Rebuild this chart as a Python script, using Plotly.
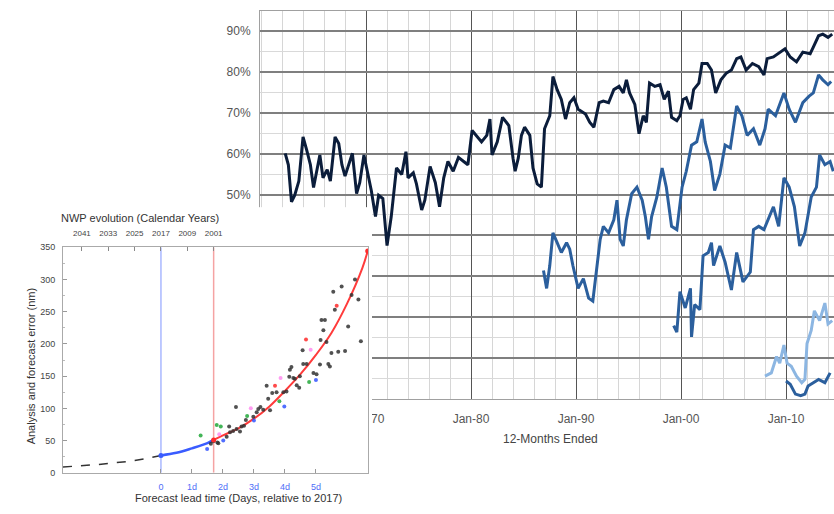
import plotly.graph_objects as go

# ---------------- Background chart: skill (%) vs 12-months ended ----------------
dark_year = [1962.3, 1962.6, 1962.9, 1963.2, 1963.6, 1964.0, 1964.35, 1964.7, 1965.0, 1965.3,
             1965.6, 1965.9, 1966.3, 1966.6, 1967.05, 1967.4, 1967.7, 1968.0, 1968.3, 1968.7,
             1969.1, 1969.4, 1969.8, 1970.1, 1970.5, 1970.9, 1971.2, 1971.6, 1972.0, 1972.4,
             1972.9, 1973.4, 1973.8, 1974.0, 1974.5, 1974.8, 1975.3, 1975.6, 1976.1, 1976.6,
             1977.0, 1977.4, 1977.8, 1978.3, 1978.8, 1979.3, 1979.7, 1980.1, 1980.5, 1981.0,
             1981.5, 1981.8, 1982.0, 1982.5, 1983.0, 1983.6, 1984.0, 1984.2, 1984.5, 1984.8,
             1985.1, 1985.6, 1985.9, 1986.3, 1986.7, 1987.0, 1987.5, 1987.8, 1988.2, 1988.6,
             1989.0, 1989.4, 1989.8, 1990.2, 1990.9, 1991.3, 1991.7, 1992.2, 1992.6, 1993.1,
             1993.6, 1994.1, 1994.5, 1994.8, 1995.1, 1995.6, 1996.0, 1996.4, 1996.7, 1997.0,
             1997.5, 1998.0, 1998.4, 1998.8, 1999.1, 1999.6, 1999.9, 2000.2, 2000.5, 2000.9,
             2001.2, 2001.7, 2002.0, 2002.5, 2002.9, 2003.3, 2003.8, 2004.3, 2004.8, 2005.3,
             2005.7, 2006.2, 2006.8, 2007.4, 2007.9, 2008.2, 2008.8, 2009.5, 2009.9, 2010.4,
             2011.0, 2011.6, 2012.3, 2012.6, 2013.1, 2013.5, 2014.0, 2014.4]
dark_val = [60.1, 57.3, 48.2, 49.8, 53.3, 64.1, 60.9, 57.3, 51.7, 55.3,
            59.7, 54.1, 56.1, 53.3, 64.1, 62.5, 57.3, 54.5, 56.9, 60.1,
            50.2, 52.9, 59.7, 55.7, 51.0, 44.6, 49.8, 49.0, 37.5, 44.6,
            56.5, 54.9, 60.5, 54.1, 55.3, 52.6, 46.2, 48.6, 56.9, 52.9,
            47.0, 54.1, 58.1, 55.7, 59.1, 58.1, 57.3, 65.7, 64.5, 62.9,
            64.5, 68.5, 59.7, 62.9, 68.9, 66.9, 58.9, 55.7, 58.9, 64.5,
            66.5, 64.5, 56.5, 52.6, 51.8, 66.1, 69.3, 78.9, 75.7, 73.3,
            68.5, 72.5, 73.7, 70.9, 69.7, 67.7, 66.5, 72.5, 72.9, 72.5,
            75.7, 76.5, 74.9, 78.1, 74.9, 72.1, 64.9, 69.3, 67.7, 77.3,
            76.5, 76.9, 73.3, 75.3, 68.9, 68.1, 69.3, 73.3, 73.7, 70.9,
            75.7, 77.3, 82.1, 82.1, 80.5, 74.9, 78.1, 79.7, 80.5, 83.3,
            83.7, 80.5, 82.1, 81.3, 79.3, 83.3, 83.7, 84.9, 85.7, 83.7,
            82.5, 84.9, 84.5, 86.1, 88.9, 89.3, 88.5, 89.3]

mid_year = [1986.9, 1987.2, 1987.5, 1987.8, 1988.2, 1988.6, 1989.1, 1989.4, 1989.7, 1990.2,
            1990.7, 1991.2, 1991.6, 1992.0, 1992.3, 1992.6, 1993.1, 1993.6, 1993.9, 1994.2,
            1994.5, 1994.8, 1995.3, 1995.8, 1996.3, 1996.6, 1996.9, 1997.2, 1997.7, 1998.2,
            1998.6, 1999.1, 1999.6, 2000.1, 2000.5, 2001.0, 2001.5, 2002.0, 2002.3, 2002.8,
            2003.2, 2003.7, 2004.2, 2004.7, 2005.3, 2005.8, 2006.3, 2006.9, 2007.5, 2008.0,
            2008.3, 2009.0, 2009.8, 2010.3, 2010.9, 2011.6, 2012.2, 2012.6, 2013.1, 2013.5,
            2014.0, 2014.3]
mid_val = [31.4, 27.0, 32.6, 40.6, 38.2, 35.8, 38.2, 36.6, 32.6, 27.0,
           29.4, 24.6, 23.9, 32.6, 39.0, 42.2, 40.6, 43.8, 48.6, 39.0,
           37.4, 43.8, 50.2, 51.8, 48.6, 44.6, 39.0, 44.6, 49.4, 56.5,
           51.8, 42.2, 41.4, 51.8, 55.7, 62.1, 62.9, 68.5, 62.9, 58.1,
           51.0, 55.0, 62.1, 61.4, 71.7, 69.3, 64.5, 66.1, 62.1, 66.1,
           70.9, 69.3, 74.9, 70.9, 67.7, 72.5, 74.1, 74.9, 79.3, 78.1,
           76.9, 77.7]

low_year = [1999.3, 1999.6, 1999.9, 2000.4, 2000.9, 2001.0, 2001.3, 2001.8, 2002.1, 2002.6,
            2002.9, 2003.1, 2003.7, 2004.2, 2004.8, 2005.3, 2005.9, 2006.6, 2006.9, 2007.4,
            2007.9, 2008.8, 2009.3, 2009.8, 2010.3, 2010.8, 2011.3, 2011.8, 2012.4, 2012.9,
            2013.2, 2013.7, 2014.2, 2014.5]
low_val = [17.9, 16.3, 26.2, 22.2, 27.0, 15.1, 23.0, 21.8, 35.0, 35.8,
           38.2, 32.6, 37.4, 33.4, 26.6, 35.8, 28.6, 31.0, 41.4, 42.2,
           41.4, 47.0, 42.2, 54.1, 51.8, 47.0, 37.4, 40.6, 49.4, 51.8,
           59.7, 57.3, 58.1, 55.7]

light_year = [2008.0, 2008.6, 2009.1, 2009.4, 2009.8, 2010.1, 2010.5, 2011.0, 2011.5, 2011.8,
              2012.0, 2012.4, 2012.7, 2013.2, 2013.7, 2014.0, 2014.4]
light_val = [5.5, 6.3, 10.3, 8.7, 13.1, 8.7, 7.9, 5.5, 3.9, 4.7,
             13.5, 16.7, 21.5, 19.1, 23.4, 18.3, 19.1]

base_year = [2010.0, 2010.4, 2010.9, 2011.4, 2011.8, 2012.1, 2012.6, 2013.1, 2013.7, 2014.2]
base_val = [4.3, 3.5, 1.1, 0.7, 1.1, 3.1, 3.9, 4.7, 3.9, 6.3]

decade_ticks = [1970, 1980, 1990, 2000, 2010]
decade_labels = ["Jan-70", "Jan-80", "Jan-90", "Jan-00", "Jan-10"]
pct_ticks = [0, 10, 20, 30, 40, 50, 60, 70, 80, 90]
pct_labels = ["0%", "10%", "20%", "30%", "40%", "50%", "60%", "70%", "80%", "90%"]

# ---------------- Inset: NWP evolution ----------------
dash_t = [-3.16, -2.5, -2.0, -1.5, -1.0, -0.5, 0.0]
dash_y = [9, 11, 13, 15.5, 18, 22, 27]
blue_t = [0.0, 0.5, 1.0, 1.5, 1.7]
blue_y = [27, 31, 38, 46, 51]
red_t = [1.7, 2.0, 2.5, 3.0, 3.5, 4.0, 4.5, 5.0, 5.5, 6.0, 6.5, 6.67]
red_y = [51, 58, 69, 84, 103, 127, 153, 183, 217, 262, 318, 344]

blk_t = [6.26, 5.83, 5.56, 6.15, 6.37, 5.61, 5.18, 5.29, 6.04, 5.24, 5.15, 5.34, 6.45, 4.57,
         5.5, 5.72, 5.94, 1.61, 1.82, 2.12, 2.2, 2.23, 2.33, 2.44, 2.55, 2.6, 2.68, 2.74,
         2.98, 3.09, 3.14, 3.21, 3.3, 2.42, 3.52, 3.46, 3.59, 3.73, 3.41, 3.95, 4.05, 4.14,
         4.27, 4.32, 4.38, 4.46, 4.21, 4.59, 4.7, 4.92, 5.02, 5.13, 5.4, 5.45, 4.16, 4.48,
         1.69, 1.85]
blk_y = [300, 289, 281, 276, 269, 253, 237, 237, 227, 221, 206, 203, 204, 190,
         186, 188, 189, 45, 47, 56, 72, 63, 65, 68, 64, 72, 73, 82,
         87, 94, 99, 102, 98, 102, 97, 115, 124, 125, 135, 125, 126, 149,
         147, 146, 136, 132, 164, 169, 169, 155, 153, 168, 169, 165, 160, 150,
         49, 46]
grn_t = [1.28, 1.8, 1.93, 2.78, 3.82, 4.78]
grn_y = [58, 74, 72, 88, 111, 141]
blu_t = [1.49, 2.01, 3.0, 3.98, 5.0]
blu_y = [37, 50, 81, 103, 144]
red_pt_t = [5.67, 4.68, 3.68]
red_pt_y = [259, 207, 135]
pnk_t = [4.83, 1.88, 2.9, 3.86]
pnk_y = [191, 60, 100, 147]

lead_ticks = [0, 1, 2, 3, 4, 5]
lead_labels = ["0", "1d", "2d", "3d", "4d", "5d"]
year_ticks = [-2.55, -1.7, -0.85, 0.0, 0.85, 1.7]
year_labels = ["2041", "2033", "2025", "2017", "2009", "2001"]
err_ticks = [0, 50, 100, 150, 200, 250, 300, 350]
now_line_t = [0.0, 0.0]
past_line_t = [1.7, 1.7]
vline_y = [0, 350]

W, H = 834, 514
def px(x):
    return x / W
def py(y):
    return (H - y) / H

FONT = "Arial, Liberation Sans, sans-serif"
fig = go.Figure()

# background series
for xs, ys, col, w in [(dark_year, dark_val, "#0b1d3b", 3),
                       (mid_year, mid_val, "#2b5f9d", 3),
                       (low_year, low_val, "#2b5f9d", 3),
                       (light_year, light_val, "#8cb6e2", 3),
                       (base_year, base_val, "#2b5f9d", 3)]:
    fig.add_trace(go.Scatter(x=xs, y=ys, mode="lines", line=dict(color=col, width=w),
                             xaxis="x", yaxis="y", showlegend=False, hoverinfo="skip"))

# white cover subplot (x2/y2)
fig.add_trace(go.Scatter(x=[0], y=[0], mode="markers", marker=dict(opacity=0),
                         xaxis="x2", yaxis="y2", showlegend=False, hoverinfo="skip"))

# inset traces
fig.add_trace(go.Scatter(x=now_line_t, y=vline_y, mode="lines", line=dict(color="#a9b8ff", width=1.5),
                         xaxis="x3", yaxis="y3", showlegend=False, hoverinfo="skip"))
fig.add_trace(go.Scatter(x=past_line_t, y=vline_y, mode="lines", line=dict(color="#f5a3a3", width=1.5),
                         xaxis="x3", yaxis="y3", showlegend=False, hoverinfo="skip"))
fig.add_trace(go.Scatter(x=dash_t, y=dash_y, mode="lines", line=dict(color="#333333", width=1.5, dash="dash"),
                         xaxis="x3", yaxis="y3", showlegend=False, hoverinfo="skip"))
fig.add_trace(go.Scatter(x=blue_t, y=blue_y, mode="lines", line=dict(color="#3a5cff", width=2.5, shape="spline"),
                         xaxis="x3", yaxis="y3", showlegend=False, hoverinfo="skip"))
fig.add_trace(go.Scatter(x=red_t, y=red_y, mode="lines", line=dict(color="#ff3b3b", width=2, shape="spline"),
                         xaxis="x3", yaxis="y3", showlegend=False, hoverinfo="skip"))
for xs, ys, col in [(blk_t, blk_y, "#333333"), (grn_t, grn_y, "#22a83a"), (blu_t, blu_y, "#3355ff"),
                    (red_pt_t, red_pt_y, "#ff2a2a"), (pnk_t, pnk_y, "#ff8cf0")]:
    fig.add_trace(go.Scatter(x=xs, y=ys, mode="markers", marker=dict(color=col, size=4, opacity=0.85),
                             xaxis="x3", yaxis="y3", showlegend=False, hoverinfo="skip"))
fig.add_trace(go.Scatter(x=[dash_t[-1], red_t[0], red_t[-1]], y=[dash_y[-1], red_y[0], red_y[-1]],
                         mode="markers", marker=dict(color=["#3a5cff", "#ff2a2a", "#ff2a2a"], size=5),
                         xaxis="x3", yaxis="y3", showlegend=False, hoverinfo="skip"))
fig.add_trace(go.Scatter(x=[0], y=[0], mode="markers", marker=dict(opacity=0),
                         xaxis="x4", yaxis="y3", showlegend=False, hoverinfo="skip"))

fig.update_layout(
    width=W, height=H, margin=dict(l=0, r=0, t=0, b=0),
    paper_bgcolor="white", plot_bgcolor="white",
    font=dict(family=FONT),
    xaxis=dict(domain=[px(260), 1.0], range=[1959.9, 2014.57], tickmode="array",
               tickvals=decade_ticks, ticktext=decade_labels,
               tickfont=dict(size=12, color="#555555"), ticks="", ticklabelstandoff=9,
               showgrid=True, gridcolor="#555555", gridwidth=1.2,
               minor=dict(tickmode="linear", tick0=1960, dtick=2, showgrid=True,
                          gridcolor="#d6d6d6", gridwidth=1),
               showline=True, linecolor="#a0a0a0", linewidth=1, mirror=True, zeroline=False),
    yaxis=dict(domain=[py(403), py(6)], range=[0, 95], tickmode="array",
               tickvals=pct_ticks, ticktext=pct_labels,
               tickfont=dict(size=12, color="#555555"), ticks="", ticklabelstandoff=6,
               showgrid=True, gridcolor="#7f7f7f", gridwidth=2,
               minor=dict(tickmode="linear", tick0=0, dtick=5, showgrid=True,
                          gridcolor="#d9d9d9", gridwidth=1),
               showline=True, linecolor="#a0a0a0", linewidth=1, zeroline=False),
    xaxis2=dict(domain=[0, px(372)], range=[0, 1], visible=False, anchor="y2"),
    yaxis2=dict(domain=[0, py(207)], range=[0, 1], visible=False, anchor="x2"),
    xaxis3=dict(domain=[px(63), px(368)], range=[-3.16, 6.68], anchor="y3",
                tickmode="array", tickvals=lead_ticks, ticktext=lead_labels,
                tickfont=dict(size=9, color="#4f6ef7"), ticks="inside", ticklen=4,
                tickcolor="#999999", showgrid=False, zeroline=False,
                showline=True, linecolor="#aaaaaa", linewidth=1, mirror=True,
                ticklabelstandoff=5),
    xaxis4=dict(overlaying="x3", side="top", range=[-3.16, 6.68], anchor="y3",
                tickmode="array", tickvals=year_ticks, ticktext=year_labels,
                tickfont=dict(size=8, color="#444444"), ticks="inside", ticklen=4,
                tickcolor="#888888", showgrid=False, zeroline=False, showline=False,
                ticklabelstandoff=9),
    yaxis3=dict(domain=[py(479), py(248)], range=[0, 350], anchor="x3",
                tickmode="array", tickvals=err_ticks,
                tickfont=dict(size=9, color="#444444"), ticks="inside", ticklen=4,
                tickcolor="#999999", showgrid=False, zeroline=False,
                minor=dict(tickmode="linear", tick0=0, dtick=25, ticks="inside", ticklen=2,
                           tickcolor="#bbbbbb"),
                showline=True, linecolor="#aaaaaa", linewidth=1, mirror=True,
                ticklabelstandoff=5),
    annotations=[
        dict(text="12-Months Ended", x=px(550), y=py(444), xref="paper", yref="paper",
             xanchor="center", yanchor="middle",
             showarrow=False, font=dict(size=12, color="#444444")),
        dict(text="NWP evolution (Calendar Years)", x=px(140), y=py(218), xref="paper", yref="paper",
             xanchor="center", yanchor="middle",
             showarrow=False, font=dict(size=11, color="#333333")),
        dict(text="Analysis and forecast error (nm)", x=px(31), y=py(370), xref="paper", yref="paper",
             xanchor="center", yanchor="middle",
             showarrow=False, textangle=-90, font=dict(size=11, color="#333333")),
        dict(text="Forecast lead time (Days, relative to 2017)", x=px(238), y=py(505), xref="paper",
             yref="paper", xanchor="center", yanchor="middle",
             showarrow=False, font=dict(size=11, color="#333333")),
    ],
)

fig.write_html("out.html")
